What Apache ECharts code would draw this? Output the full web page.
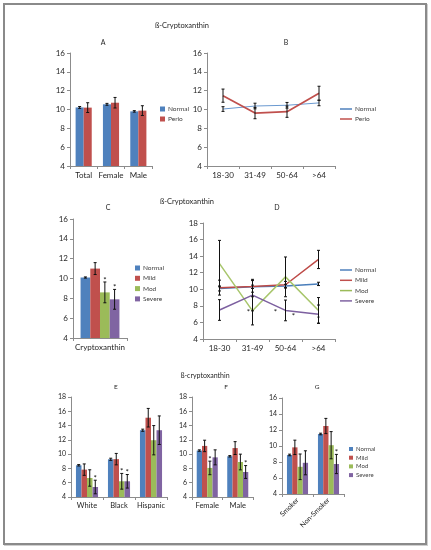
<!DOCTYPE html>
<html>
<head>
<meta charset="utf-8">
<script src="https://cdn.jsdelivr.net/npm/echarts@6/dist/echarts.min.js"></script>
<style>
  html, body { margin: 0; padding: 0; background: #fff; }
  #frame { position: absolute; left: 3px; top: 3px; width: 420px; height: 538px;
           border: 2px solid #8a8a8a; box-shadow: 1px 1px 0 #cfcfcf; }
  #report-echarts { position: absolute; left: 0; top: 0; width: 431px; height: 550px; }
</style>
</head>
<body>
<div id="frame"></div>
<div id="report-echarts"></div>
<script>
// ---- data ----
var groupsA = ['Total', 'Female', 'Male'];
var normalA = [10.22, 10.55, 9.8];
var normalErrA = [0.1, 0.1, 0.08];
var perioA = [10.2, 10.72, 9.88];
var perioErrA = [0.52, 0.56, 0.52];

var ages = ['18-30', '31-49', '50-64', '>64'];
var normalB = [10.05, 10.37, 10.45, 10.7];
var normalErrB = [0.25, 0.3, 0.3, 0.3];
var perioB = [11.47, 9.62, 9.77, 11.72];
var perioErrB = [0.7, 0.6, 0.6, 0.75];

var groupsC = ['Cryptoxanthin'];
var normalC = [10.1];
var normalErrC = [0.06];
var mildC = [11.0];
var mildErrC = [0.6];
var modC = [8.6];
var modErrC = [1.05];
var severeC = [7.9];
var severeErrC = [1.0];
var starsC = [[0], [0], [1], [1]]; // normal, mild, mod, severe

var normalD = [10.1, 10.3, 10.4, 10.65];
var normalErrD = [0.3, 0.2, 0.2, 0.2];
var mildD = [10.2, 10.35, 10.55, 13.6];
var mildErrD = [0.9, 0.7, 0.4, 1.1];
var modD = [13.1, 7.4, 11.5, 7.45];
var modErrD = [2.8, 1.7, 2.4, 1.55];
var severeD = [7.5, 9.3, 7.45, 7.0];
var severeErrD = [1.25, 1.9, 1.25, 1.1];
var starsD = [[1, 7.4], [2, 7.4], [2, 7.0], [3, 6.6]];

var races = ['White', 'Black', 'Hispanic'];
var normalE = [8.44, 9.28, 13.35];
var normalErrE = [0.1, 0.15, 0.15];
var mildE = [7.83, 9.3, 15.1];
var mildErrE = [0.8, 0.8, 1.3];
var modE = [6.66, 6.2, 11.95];
var modErrE = [1.15, 1.1, 2.05];
var severeE = [5.4, 6.2, 13.35];
var severeErrE = [0.95, 0.95, 2.0];
var starsE = [[0, 0, 0], [0, 0, 0], [0, 1, 0], [1, 1, 0]];

var sexes = ['Female', 'Male'];
var normalF = [10.5, 9.7];
var normalErrF = [0.1, 0.1];
var mildF = [11.15, 10.85];
var mildErrF = [0.8, 0.9];
var modF = [8.07, 8.9];
var modErrF = [0.95, 1.1];
var severeF = [9.55, 7.5];
var severeErrF = [1.05, 0.9];
var starsF = [[0, 0], [0, 0], [1, 0], [0, 1]];

var smoking = ['Smoker', 'Non-Smoker'];
var normalG = [8.88, 11.5];
var normalErrG = [0.1, 0.1];
var mildG = [9.83, 12.5];
var mildErrG = [0.9, 0.95];
var modG = [7.4, 10.1];
var modErrG = [1.6, 1.7];
var severeG = [7.9, 7.75];
var severeErrG = [1.5, 1.2];
var starsG = [[0, 0], [0, 0], [0, 0], [0, 1]];

// ---- style ----
var FONT = 'Lato, "Open Sans", sans-serif';
var TXT = '#262626';
var AXIS = '#8c8c8c';
var BLUE = '#4F81BD', RED = '#C0504D', GREEN = '#9BBB59', PURPLE = '#8064A2';
var sevNames = ['Normal', 'Mild', 'Mod', 'Severe'];
var sevColors = [BLUE, RED, GREEN, PURPLE];

var myChart = echarts.init(document.getElementById('report-echarts'));

var grids = [
  {left: 70, top: 53, width: 82, height: 113},   // A
  {left: 207, top: 53, width: 128, height: 113}, // B
  {left: 73, top: 219, width: 54, height: 119},  // C
  {left: 203, top: 223, width: 132, height: 116},// D
  {left: 71, top: 397, width: 96, height: 100},  // E
  {left: 192, top: 397, width: 61, height: 100}, // F
  {left: 282, top: 398, width: 62, height: 96}   // G
];

function xAx(idx, cats, fs, rotate) {
  return {
    type: 'category', gridIndex: idx, data: cats,
    axisLine: {lineStyle: {color: AXIS, width: 1}},
    axisTick: {show: true, length: 3, lineStyle: {color: AXIS}},
    axisLabel: {fontSize: fs, color: TXT, fontFamily: FONT, margin: 5, rotate: rotate || 0, interval: 0}
  };
}
function yAx(idx, max, fs) {
  return {
    type: 'value', gridIndex: idx, min: 4, max: max, interval: 2,
    splitLine: {show: false},
    axisLine: {show: true, lineStyle: {color: AXIS, width: 1}},
    axisTick: {show: true, length: 3, lineStyle: {color: AXIS}},
    axisLabel: {fontSize: fs, color: TXT, fontFamily: FONT, margin: 5}
  };
}

// error bars (and optional significance stars) drawn through the axes
function errSeries(idx, vals, errs, barIdx, nBars, gap, stars) {
  var data = [];
  for (var i = 0; i < vals.length; i++) {
    data.push([i, vals[i], errs[i], stars ? stars[i] : 0]);
  }
  return {
    type: 'custom', xAxisIndex: idx, yAxisIndex: idx, silent: true, z: 5,
    encode: {x: 0, y: 1},
    data: data,
    renderItem: function (params, api) {
      var i = api.value(0), v = api.value(1), e = api.value(2);
      var x = api.coord([i, v])[0];
      if (nBars > 0) {
        var band = api.size([1, 0])[0];
        var groupW = band * (1 - gap);
        var bw = groupW / nBars;
        x = x - groupW / 2 + bw * (barIdx + 0.5);
      }
      var top = api.coord([i, v + e])[1];
      var bot = api.coord([i, v - e])[1];
      var st = {stroke: '#111', lineWidth: 1};
      var kids = [
        {type: 'line', shape: {x1: x, y1: top, x2: x, y2: bot}, style: st},
        {type: 'line', shape: {x1: x - 1.5, y1: top, x2: x + 1.5, y2: top}, style: st},
        {type: 'line', shape: {x1: x - 1.5, y1: bot, x2: x + 1.5, y2: bot}, style: st}
      ];
      if (api.value(3)) {
        kids.push({type: 'text', x: x, y: top - 2,
          style: {text: '*', fill: '#111', fontSize: 8, fontFamily: FONT,
                  align: 'center', verticalAlign: 'middle', textAlign: 'center', textVerticalAlign: 'middle'}});
      }
      return {type: 'group', children: kids};
    }
  };
}

function barSeries(idx, name, color, vals, gap) {
  return {
    type: 'bar', name: name, xAxisIndex: idx, yAxisIndex: idx,
    data: vals, barGap: '0%', barCategoryGap: (gap * 100) + '%',
    itemStyle: {color: color}, silent: true
  };
}

function lineSeries(idx, name, color, vals, width) {
  return {
    type: 'line', name: name, xAxisIndex: idx, yAxisIndex: idx,
    data: vals, symbol: 'none', silent: true,
    itemStyle: {color: color}, lineStyle: {color: color, width: width}
  };
}

var series = [];

// A
var gapA = 0.41;
series.push(barSeries(0, 'Normal', BLUE, normalA, gapA));
series.push(barSeries(0, 'Perio', RED, perioA, gapA));
series.push(errSeries(0, normalA, normalErrA, 0, 2, gapA));
series.push(errSeries(0, perioA, perioErrA, 1, 2, gapA));

// B
series.push(lineSeries(1, 'Normal', '#6A99D0', normalB, 1));
series.push(lineSeries(1, 'Perio', RED, perioB, 1.75));
series.push(errSeries(1, normalB, normalErrB, 0, 0));
series.push(errSeries(1, perioB, perioErrB, 0, 0));

// C, E, F, G: four severity bars per group
function severityPanel(idx, sets, errSets, starSets, gap) {
  for (var k = 0; k < 4; k++) {
    series.push(barSeries(idx, sevNames[k], sevColors[k], sets[k], gap));
  }
  for (var k2 = 0; k2 < 4; k2++) {
    series.push(errSeries(idx, sets[k2], errSets[k2], k2, 4, gap, starSets[k2]));
  }
}
severityPanel(2, [normalC, mildC, modC, severeC], [normalErrC, mildErrC, modErrC, severeErrC], starsC, 0.28);
severityPanel(4, [normalE, mildE, modE, severeE], [normalErrE, mildErrE, modErrE, severeErrE], starsE, 0.31);
severityPanel(5, [normalF, mildF, modF, severeF], [normalErrF, mildErrF, modErrF, severeErrF], starsF, 0.31);
severityPanel(6, [normalG, mildG, modG, severeG], [normalErrG, mildErrG, modErrG, severeErrG], starsG, 0.32);

// D
var lineD = [normalD, mildD, modD, severeD];
var lineErrD = [normalErrD, mildErrD, modErrD, severeErrD];
var lineColorsD = ['#4A7EBB', '#BE4B48', '#A8C66C', '#7D60A0'];
for (var d = 0; d < 4; d++) {
  series.push(lineSeries(3, sevNames[d], lineColorsD[d], lineD[d], 1.5));
}
for (var d2 = 0; d2 < 4; d2++) {
  series.push(errSeries(3, lineD[d2], lineErrD[d2], 0, 0));
}
var starShiftD = [-4, -10, 8, 0];
series.push({
  type: 'custom', xAxisIndex: 3, yAxisIndex: 3, silent: true, z: 6,
  encode: {x: 0, y: 1}, data: starsD,
  renderItem: function (params, api) {
    var p = api.coord([api.value(0), api.value(1)]);
    return {type: 'text', x: p[0] + starShiftD[params.dataIndex], y: p[1] + 2,
      style: {text: '*', fill: '#111', fontSize: 8, fontFamily: FONT,
              align: 'center', verticalAlign: 'middle', textAlign: 'center', textVerticalAlign: 'middle'}};
  }
});

function legendAt(left, top, names, icon, w, h, gap, fs) {
  return {
    left: left, top: top, orient: 'vertical', padding: 0, selectedMode: false,
    itemWidth: w, itemHeight: h, itemGap: gap,
    data: names.map(function (n) { return {name: n, icon: icon}; }),
    textStyle: {fontSize: fs, color: '#404040', fontFamily: FONT, lineHeight: 8, padding: [0, 0, 0, -2]}
  };
}

function label(text, x, y, fs) {
  return {type: 'text', x: x, y: y, silent: true,
    style: {text: text, fill: TXT, fontSize: fs, fontFamily: FONT,
            align: 'center', verticalAlign: 'middle', textAlign: 'center', textVerticalAlign: 'middle'}};
}

var option = {
  animation: false,
  textStyle: {fontFamily: FONT},
  grid: grids,
  xAxis: [
    xAx(0, groupsA, 8), xAx(1, ages, 8), xAx(2, groupsC, 8), xAx(3, ages, 8),
    xAx(4, races, 7.5), xAx(5, sexes, 7.5), xAx(6, smoking, 7, 45)
  ],
  yAxis: [
    yAx(0, 16, 8), yAx(1, 16, 8), yAx(2, 16, 8), yAx(3, 18, 8),
    yAx(4, 18, 7), yAx(5, 18, 7), yAx(6, 16, 7)
  ],
  legend: [
    legendAt(160, 105, ['Normal', 'Perio'], 'rect', 5, 5, 2, 6.5),
    legendAt(340, 105, ['Normal', 'Perio'], 'rect', 12, 1.5, 2, 6.5),
    legendAt(135, 264, sevNames, 'rect', 5, 5, 2.3, 6.5),
    legendAt(340, 266, sevNames, 'rect', 12, 1.5, 2.3, 6.5),
    legendAt(349, 445, sevNames, 'rect', 4, 4, 0.7, 6)
  ],
  graphic: [
    label('ß-Cryptoxanthin', 182, 26, 7.5),
    label('A', 103, 43, 7),
    label('B', 286, 43, 7),
    label('ß-Cryptoxanthin', 187, 202, 7.5),
    label('C', 108, 208, 7),
    label('D', 277, 208, 7),
    label('ß-cryptoxanthin', 205, 376, 7),
    label('E', 116, 387, 6.5),
    label('F', 226, 387, 6.5),
    label('G', 317, 387, 6.5)
  ],
  series: series
};
myChart.setOption(option);
</script>
</body>
</html>
